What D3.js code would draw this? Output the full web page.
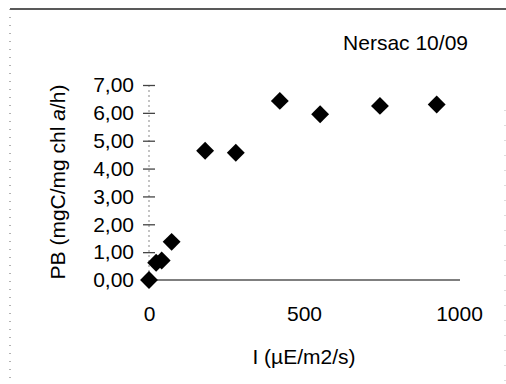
<!DOCTYPE html>
<html>
<head>
<meta charset="utf-8">
<script src="https://cdn.jsdelivr.net/npm/d3@7"></script>
<style>
  html, body { margin: 0; padding: 0; background: #fff; }
  svg { display: block; font-family: "Liberation Sans", Arial, sans-serif; }
</style>
</head>
<body>
<svg id="chart" width="506" height="384"></svg>
<script>
// Data
const irradiance = [0, 23, 41, 73, 181, 280, 422, 552, 745, 928];
const pb = [0, 0.62, 0.70, 1.37, 4.64, 4.57, 6.43, 5.95, 6.25, 6.30];
const yTicks = [0, 1, 2, 3, 4, 5, 6, 7];
const xTicks = [0, 500, 1000];
const chartTitle = "Nersac 10/09";
const xTitle = "I (µE/m2/s)";

const svg = d3.select("#chart");
const x = d3.scaleLinear().domain([0, 1000]).range([149, 459]);
const y = d3.scaleLinear().domain([0, 7]).range([280, 85]);
const fmt = v => d3.format(".2f")(v).replace(".", ",");

// frame
svg.append("line").attr("x1", 10).attr("x2", 506).attr("y1", 9).attr("y2", 9)
  .attr("stroke", "#222").attr("stroke-width", 1.6);
svg.append("line").attr("x1", 10).attr("x2", 10).attr("y1", 9).attr("y2", 384)
  .attr("stroke", "#666").attr("stroke-width", 1).attr("stroke-dasharray", "1,7");
svg.append("line").attr("x1", 505).attr("x2", 505).attr("y1", 110).attr("y2", 384)
  .attr("stroke", "#bbb").attr("stroke-width", 1).attr("stroke-dasharray", "1,14");

// y axis (dashed line with cross ticks)
svg.append("line").attr("x1", x(0)).attr("x2", x(0)).attr("y1", y(7)).attr("y2", y(0))
  .attr("stroke", "#888").attr("stroke-width", 1).attr("stroke-dasharray", "2,3");
const yAxis = d3.axisLeft(y).tickValues(yTicks).tickFormat(fmt).tickSize(0).tickPadding(15);
const gy = svg.append("g").attr("transform", `translate(${x(0)},0)`).call(yAxis);
gy.select(".domain").remove();
gy.selectAll(".tick text").attr("font-size", 21).attr("fill", "#000")
  .attr("font-family", "Liberation Sans, Arial, sans-serif");
gy.selectAll(".tick").filter(d => d > 0).append("line")
  .attr("x1", -6).attr("x2", 6).attr("stroke", "#444").attr("stroke-width", 1.3);

// x axis
const xAxis = d3.axisBottom(x).tickValues(xTicks).tickFormat(d3.format("d")).tickSize(0).tickPadding(26);
const gx = svg.append("g").attr("transform", `translate(0,${y(0)})`).call(xAxis);
gx.select(".domain").attr("stroke", "#555").attr("stroke-width", 1.4).attr("d", `M${x(0)},0H${x(1000) + 1}`);
gx.selectAll(".tick text").attr("font-size", 21).attr("fill", "#000")
  .attr("font-family", "Liberation Sans, Arial, sans-serif");

// points (diamonds)
const diamond = d3.symbol().type(d3.symbolSquare).size(160);
svg.append("g").selectAll("path").data(irradiance.map((v, i) => [v, pb[i]])).join("path")
  .attr("d", diamond)
  .attr("transform", d => `translate(${x(d[0])},${y(d[1])}) rotate(45)`)
  .attr("fill", "#000");

// titles
svg.append("text").attr("x", 468).attr("y", 50).attr("text-anchor", "end")
  .attr("font-size", 21).text(chartTitle);
svg.append("text").attr("x", (x(0) + x(1000)) / 2).attr("y", 364).attr("text-anchor", "middle")
  .attr("font-size", 21).text(xTitle);
const yt = svg.append("text").attr("transform", `translate(65,182) rotate(-90)`)
  .attr("text-anchor", "middle").attr("font-size", 21);
yt.append("tspan").text("PB (mgC/mg chl ");
yt.append("tspan").attr("font-style", "italic").text("a");
yt.append("tspan").text("/h)");
</script>
</body>
</html>
